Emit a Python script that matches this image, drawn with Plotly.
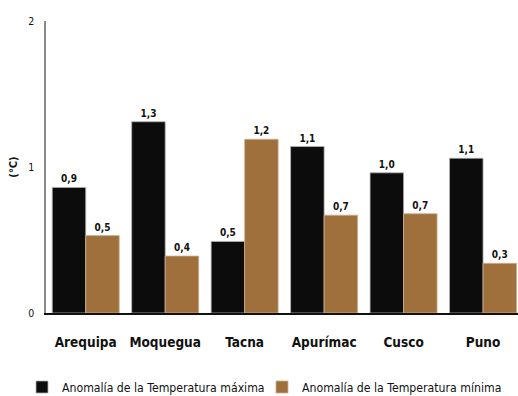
import plotly.graph_objects as go

categories = ["Arequipa", "Moquegua", "Tacna", "Apurímac", "Cusco", "Puno"]
t_max = [0.86, 1.31, 0.49, 1.14, 0.96, 1.06]
t_min = [0.53, 0.39, 1.19, 0.67, 0.68, 0.34]
series_names = ["Anomalía de la Temperatura máxima", "Anomalía de la Temperatura mínima"]
y_ticks = [0, 1, 2]

NARROW = "DejaVu Sans Condensed, Liberation Sans Narrow, sans-serif"

fig = go.Figure()
fig.add_trace(go.Bar(
    x=categories, y=t_max, name=series_names[0], legend="legend",
    marker=dict(color="#0c0c0c", line=dict(color="#b0b0b0", width=0.8)),
    texttemplate="<b>%{y:.1f}</b>", textposition="outside",
    textfont=dict(family=NARROW, size=10, color="#111"),
    cliponaxis=False,
))
fig.add_trace(go.Bar(
    x=categories, y=t_min, name=series_names[1], legend="legend2",
    marker=dict(color="#a0703c", line=dict(color="#c8b090", width=0.8)),
    texttemplate="<b>%{y:.1f}</b>", textposition="outside",
    textfont=dict(family=NARROW, size=10, color="#111"),
    cliponaxis=False,
))

legend_common = dict(
    orientation="h", xanchor="left",
    y=(313 - 387) / 292, yanchor="middle",
    font=dict(family=NARROW, size=12.2, color="#111"),
    itemwidth=30, bgcolor="rgba(0,0,0,0)",
)

fig.update_layout(
    width=518, height=396,
    margin=dict(l=46, r=0, t=21, b=83, autoexpand=False),
    paper_bgcolor="white", plot_bgcolor="white",
    barmode="group", bargap=0.157, bargroupgap=0,
    separators=",.",
    showlegend=True,
    legend=dict(x=(22 - 46) / 472, **legend_common),
    legend2=dict(x=(262 - 46) / 472, **legend_common),
    xaxis=dict(
        range=[-0.5, 5.44], showgrid=False, showline=True, linecolor="#111", linewidth=2,
        ticks="", tickfont=dict(family=NARROW, size=13.5, color="#111"),
        tickprefix="<b>", ticksuffix="</b>", ticklabelstandoff=16, automargin=False,
    ),
    yaxis=dict(
        range=[0, 2], tickvals=y_ticks, showgrid=False, zeroline=False,
        showline=True, linecolor="#8a8a8a", linewidth=1.5, ticks="",
        tickfont=dict(family=NARROW, size=10.5, color="#111"),
        tickprefix="<b>", ticksuffix="</b>", ticklabelstandoff=8, automargin=False,
        title=dict(text="<b>(°C)</b>", font=dict(family=NARROW, size=11, color="#111"), standoff=8),
    ),
)

fig.write_html("out.html")
